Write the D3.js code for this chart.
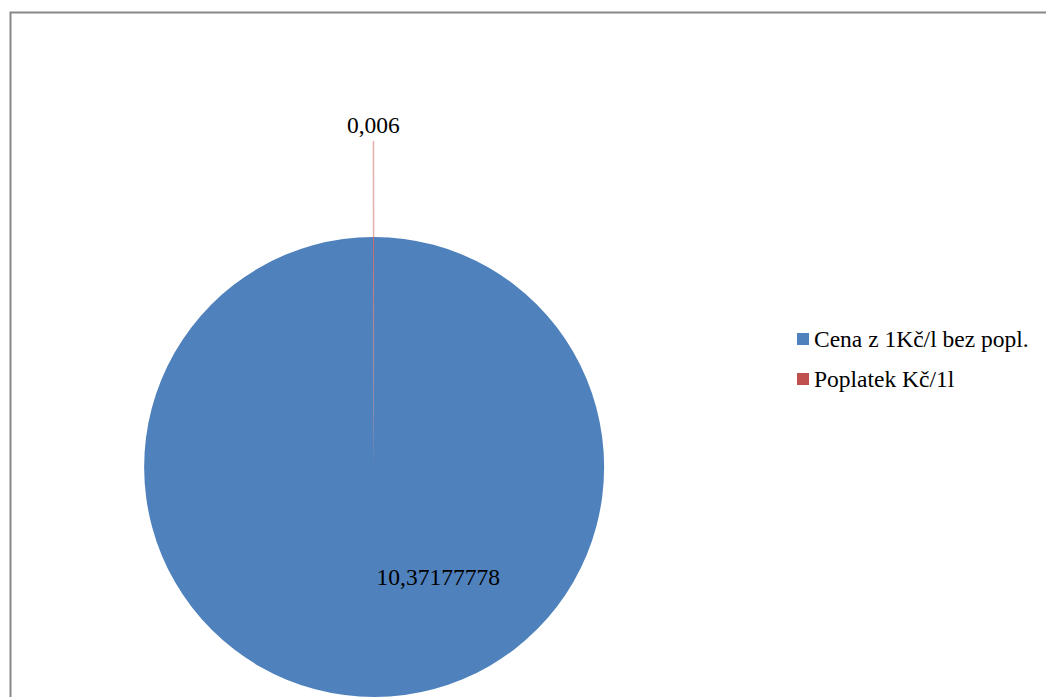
<!DOCTYPE html>
<html>
<head>
<meta charset="utf-8">
<script src="https://cdn.jsdelivr.net/npm/d3@7"></script>
<style>
  html, body { margin: 0; padding: 0; background: #fff; }
  svg { display: block; }
</style>
</head>
<body>
<svg id="chart" width="1046" height="697"></svg>
<script>
// Category names, values and their labels
const categories = ["Cena z 1Kč/l bez popl.", "Poplatek Kč/1l"];
const values = [10.37177778, 0.006];
const valueLabels = ["10,37177778", "0,006"];
const colors = ["#4F81BD", "#C0504D"];

const FONT = "'Liberation Serif', Tinos, 'Times New Roman', 'DejaVu Serif', serif";

const svg = d3.select("#chart");
const W = 1046, H = 697;

// Chart frame (extends past the right and bottom edges)
svg.append("rect")
  .attr("x", 10.5).attr("y", 12.5)
  .attr("width", W + 20).attr("height", H + 20)
  .attr("fill", "#fff")
  .attr("stroke", "#888").attr("stroke-width", 2);

const cx = 374, cy = 467, r = 230;
const g = svg.append("g").attr("transform", `translate(${cx},${cy})`);

const pie = d3.pie().sort(null).value(d => d.value);
const arcs = pie(categories.map((c, i) => ({ name: c, value: values[i], label: valueLabels[i], color: colors[i] })));
const arc = d3.arc().innerRadius(0).outerRadius(r);

g.selectAll("path.slice")
  .data(arcs)
  .join("path")
  .attr("class", "slice")
  .attr("d", arc)
  .attr("fill", d => d.data.color);

// Label for the large slice, inside the pie
const big = arcs[0];
const bigPos = d3.arc().innerRadius(r * 0.48).outerRadius(r * 0.48).centroid(big);
g.append("text")
  .attr("x", bigPos[0] + 64)
  .attr("y", bigPos[1] + 8)
  .attr("text-anchor", "middle")
  .attr("font-family", FONT)
  .attr("font-size", 23.5)
  .attr("fill", "#000")
  .text(big.data.label);

// Label for the tiny slice, outside with a leader line
const small = arcs[1];
const edge = d3.arc().innerRadius(r).outerRadius(r).centroid(small);
const outer = d3.arc().innerRadius(r + 96).outerRadius(r + 96).centroid(small);
g.append("line")
  .attr("x1", edge[0]).attr("y1", edge[1])
  .attr("x2", outer[0]).attr("y2", outer[1])
  .attr("stroke", "#E2AFAE").attr("stroke-width", 1.5);
g.append("text")
  .attr("x", outer[0])
  .attr("y", outer[1] - 8)
  .attr("text-anchor", "middle")
  .attr("font-family", FONT)
  .attr("font-size", 23.5)
  .attr("fill", "#000")
  .text(small.data.label);

// Legend
const legend = svg.append("g").attr("transform", "translate(797,333)");
const items = legend.selectAll("g.item")
  .data(categories)
  .join("g")
  .attr("class", "item")
  .attr("transform", (d, i) => `translate(0,${i * 40})`);
items.append("rect")
  .attr("width", 12).attr("height", 12)
  .attr("fill", (d, i) => colors[i]);
items.append("text")
  .attr("x", 17).attr("y", 14)
  .attr("font-family", FONT)
  .attr("font-size", 23.5)
  .attr("fill", "#000")
  .text(d => d);
</script>
</body>
</html>
